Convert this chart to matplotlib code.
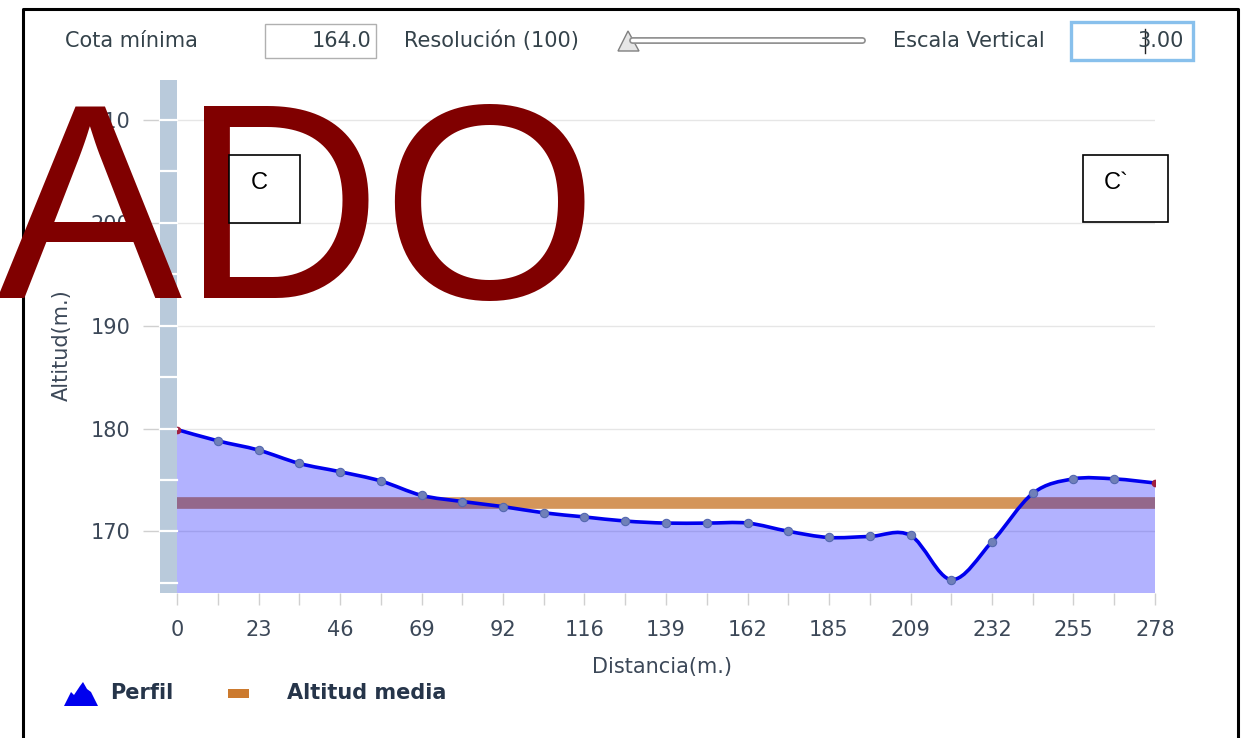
import numpy as np
import matplotlib.pyplot as plt
from matplotlib.path import Path
from matplotlib.patches import PathPatch, Rectangle, Polygon
from matplotlib.lines import Line2D
from matplotlib.transforms import blended_transform_factory

# Perfil topografico C - C`
distancias = [0.0, 11.6, 23.2, 34.8, 46.3, 57.9, 69.5, 81.1, 92.7, 104.3,
              115.8, 127.4, 139.0, 150.6, 162.2, 173.8, 185.3, 196.9, 208.5,
              220.1, 231.7, 243.3, 254.8, 266.4, 278.0]
altitudes = [179.9, 178.8, 177.9, 176.6, 175.8, 174.9, 173.5, 172.9, 172.4,
             171.8, 171.4, 171.0, 170.8, 170.8, 170.8, 170.0, 169.4, 169.5,
             169.6, 165.3, 169.0, 173.7, 175.1, 175.1, 174.7]
altitud_media = 172.8
cota_minima = 164.0
x_labels = ['0', '23', '46', '69', '92', '116', '139', '162', '185', '209',
            '232', '255', '278']
y_ticks = [170, 180, 190, 200, 210]
y_marks = [165, 170, 175, 180, 185, 190, 195, 200, 205, 210]

W, H = 1244, 738
txt_col = '#3c4858'
fs = 15


def fx(x):
    return x / W


def fy(y):
    return 1 - y / H


def smooth_path(xs, ys, closed_bottom=None):
    # Catmull-Rom curve drawn as cubic bezier segments
    pts = np.column_stack([xs, ys])
    n = len(pts)
    verts = []
    codes = []
    if closed_bottom is not None:
        verts.append((xs[0], closed_bottom))
        codes.append(Path.MOVETO)
        verts.append(tuple(pts[0]))
        codes.append(Path.LINETO)
    else:
        verts.append(tuple(pts[0]))
        codes.append(Path.MOVETO)
    for i in range(n - 1):
        p0 = pts[max(i - 1, 0)]
        p1 = pts[i]
        p2 = pts[i + 1]
        p3 = pts[min(i + 2, n - 1)]
        c1 = p1 + (p2 - p0) / 6
        c2 = p2 - (p3 - p1) / 6
        verts += [tuple(c1), tuple(c2), tuple(p2)]
        codes += [Path.CURVE4] * 3
    if closed_bottom is not None:
        verts.append((xs[-1], closed_bottom))
        codes.append(Path.LINETO)
        verts.append((xs[0], closed_bottom))
        codes.append(Path.CLOSEPOLY)
    return Path(verts, codes)


fig = plt.figure(figsize=(W / 100, H / 100), dpi=100)
fig.patch.set_facecolor('white')

ax = fig.add_axes([fx(177), fy(593), (1155 - 177) / W, (593 - 80) / H])
ax.set_xlim(0, 278)
ax.set_ylim(cota_minima, 213.9)
for s in ax.spines.values():
    s.set_visible(False)

ax.grid(axis='y', color='#e6e6e6', linewidth=1, zorder=0)
ax.set_axisbelow(True)

# altitud media (drawn under the profile fill)
ax.axhline(altitud_media, color='#d4955a', linewidth=8.4, zorder=1)

fill = PathPatch(smooth_path(distancias, altitudes, closed_bottom=cota_minima),
                 facecolor=(0, 0, 1, 0.3), edgecolor='none', zorder=2)
ax.add_patch(fill)
line = PathPatch(smooth_path(distancias, altitudes), facecolor='none',
                 edgecolor='#0000ee', linewidth=2.6, zorder=3)
ax.add_patch(line)
ax.plot(distancias[1:-1], altitudes[1:-1], 'o', ms=6, mfc='#7080b8',
        mec='#5468b0', mew=0.8, zorder=4)
ax.plot([distancias[0], distancias[-1]], [altitudes[0], altitudes[-1]], 'o',
        ms=4.5, mfc='#a02040', mec='#a02040', zorder=4)

ax.set_xticks(distancias)
ax.set_xticklabels([x_labels[i // 2] if i % 2 == 0 else ''
                    for i in range(len(distancias))])
ax.set_yticks(y_ticks)
ax.set_yticklabels([str(v) for v in y_ticks])
ax.tick_params(axis='x', length=8.5, width=1, color='#d0d0d0', pad=11,
               labelsize=fs, labelcolor=txt_col)
ax.tick_params(axis='y', length=24.5, width=1, color='#d0d0d0', pad=9,
               labelsize=fs, labelcolor=txt_col)

# thick vertical axis bar with white marks
bar_w = 17 / 978
ax.add_patch(Rectangle((-bar_w, 0), bar_w, 1, transform=ax.transAxes,
                       facecolor='#b9cadb', edgecolor='none', clip_on=False,
                       zorder=5))
bt = blended_transform_factory(ax.transAxes, ax.transData)
for v in y_marks:
    ax.plot([-bar_w, 0], [v, v], color='white', lw=1.6, transform=bt,
            clip_on=False, zorder=6)

fig.text(fx(62), fy(345), 'Altitud(m.)', rotation=90, ha='center',
         va='center', fontsize=fs, color=txt_col)
fig.text(fx(662), fy(667), 'Distancia(m.)', ha='center', va='center',
         fontsize=fs, color=txt_col)

# top controls
ctl_col = '#34424a'
fig.text(fx(65), fy(41), 'Cota mínima', ha='left', va='center',
         fontsize=fs, color=ctl_col)
fig.add_artist(Rectangle((fx(265), fy(58)), 111 / W, 34 / H,
                         transform=fig.transFigure, facecolor='white',
                         edgecolor='#b0b0b0', lw=1))
fig.text(fx(371), fy(41), '%.1f' % cota_minima, ha='right', va='center',
         fontsize=fs, color=ctl_col)
fig.text(fx(404), fy(41), 'Resolución (100)', ha='left', va='center',
         fontsize=fs, color=ctl_col)
fig.add_artist(Line2D([fx(632), fx(862)], [fy(40), fy(40)],
                      transform=fig.transFigure, color='#909090', lw=5,
                      solid_capstyle='round'))
fig.add_artist(Line2D([fx(632), fx(862)], [fy(40), fy(40)],
                      transform=fig.transFigure, color='white', lw=2.5,
                      solid_capstyle='round'))
fig.add_artist(Polygon([(fx(618), fy(51)), (fx(639), fy(51)),
                        (fx(628), fy(31))], closed=True,
                       transform=fig.transFigure, facecolor='#e6e6e6',
                       edgecolor='#808080', lw=1))
fig.text(fx(893), fy(41), 'Escala Vertical', ha='left', va='center',
         fontsize=fs, color=ctl_col)
fig.add_artist(Rectangle((fx(1071), fy(60)), 122 / W, 38 / H,
                         transform=fig.transFigure, facecolor='white',
                         edgecolor='#88c0ec', lw=2.4))
fig.text(fx(1184), fy(41), '3.00', ha='right', va='center',
         fontsize=fs, color=ctl_col)
fig.add_artist(Line2D([fx(1145), fx(1145)], [fy(29), fy(53)],
                      transform=fig.transFigure, color='#222222', lw=1))

# legend
fig.add_artist(Polygon([(fx(64), fy(706)), (fx(71), fy(692)),
                        (fx(74), fy(695)), (fx(80), fy(686)),
                        (fx(83), fy(682)), (fx(87), fy(689)),
                        (fx(91), fy(692)), (fx(98), fy(706))], closed=True,
                       transform=fig.transFigure, facecolor='#0000ee',
                       edgecolor='none'))
fig.text(fx(110), fy(693), 'Perfil', ha='left', va='center', fontsize=fs,
         fontweight='bold', color='#26354a')
fig.add_artist(Rectangle((fx(228), fy(698)), 21 / W, 9 / H,
                         transform=fig.transFigure, facecolor='#cc7a2e',
                         edgecolor='none'))
fig.text(fx(287), fy(693), 'Altitud media', ha='left', va='center',
         fontsize=fs, fontweight='bold', color='#26354a')

# outer frame (left, top, right)
fig.add_artist(Line2D([fx(23), fx(23), fx(1238), fx(1238)],
                      [fy(738), fy(9), fy(9), fy(738)],
                      transform=fig.transFigure, color='black', lw=2.2))

# annotations on top
fig.text(fx(-4), fy(298), 'ADO', ha='left', va='baseline', fontsize=200,
         family='Liberation Sans', color='#800000', zorder=10)
for (x0, y0, x1, y1, tx, lab) in [(229, 155, 300, 223, 259, 'C'),
                                  (1083, 155, 1168, 222, 1116, 'C`')]:
    fig.add_artist(Rectangle((fx(x0), fy(y1)), (x1 - x0) / W, (y1 - y0) / H,
                             transform=fig.transFigure, facecolor='white',
                             edgecolor='black', lw=1.2, zorder=11))
    fig.text(fx(tx), fy(183), lab, ha='center', va='center',
             fontsize=17, family='Liberation Sans', color='black', zorder=12)

fig.savefig('out.png', dpi=100)
